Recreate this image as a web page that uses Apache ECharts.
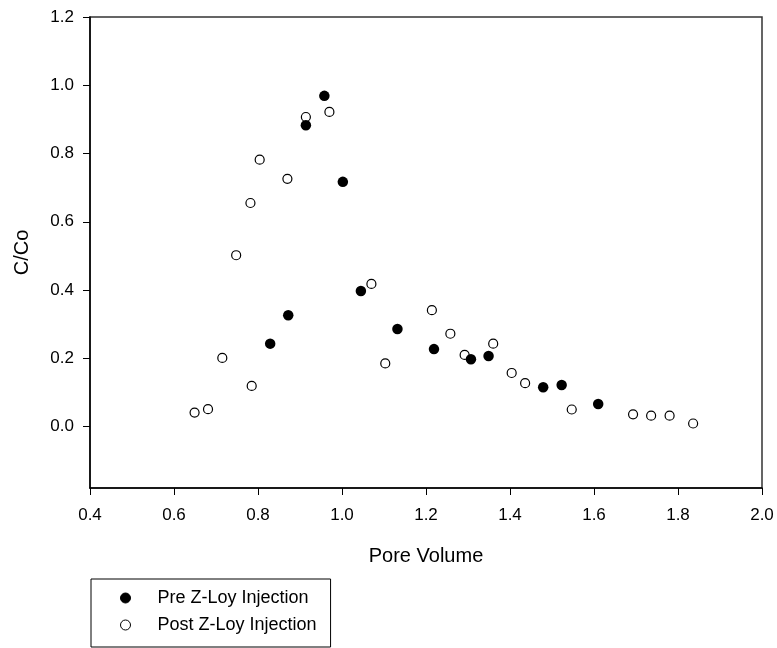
<!DOCTYPE html>
<html>
<head>
<meta charset="utf-8">
<script src="https://cdn.jsdelivr.net/npm/echarts@6/dist/echarts.min.js"></script>
<style>html,body{margin:0;padding:0;background:#fff}#c{width:777px;height:648px}</style>
</head>
<body>
<div id="c"></div>
<script>
const preX = [0.829, 0.872, 0.914, 0.958, 1.002, 1.045, 1.132, 1.219, 1.307, 1.349, 1.479, 1.523, 1.610];
const preY = [0.243, 0.326, 0.883, 0.969, 0.717, 0.397, 0.286, 0.227, 0.197, 0.207, 0.115, 0.122, 0.066];
const postX = [0.649, 0.681, 0.715, 0.748, 0.782, 0.785, 0.804, 0.870, 0.914, 0.970, 1.070, 1.103, 1.214, 1.258, 1.292, 1.360, 1.404, 1.436, 1.547, 1.693, 1.736, 1.780, 1.836];
const postY = [0.041, 0.051, 0.201, 0.502, 0.655, 0.119, 0.782, 0.726, 0.907, 0.922, 0.418, 0.185, 0.341, 0.272, 0.210, 0.243, 0.157, 0.127, 0.050, 0.036, 0.032, 0.032, 0.009];
const yTicks = [0.0, 0.2, 0.4, 0.6, 0.8, 1.0, 1.2];
const seriesNames = ['Pre Z-Loy Injection', 'Post Z-Loy Injection'];
const xName = 'Pore Volume';
const yName = 'C/Co';

const FONT = "'Liberation Sans', Arial, sans-serif";
const chart = echarts.init(document.getElementById('c'), null, {renderer: 'canvas'});
const zip = (a, b) => a.map((v, i) => [v, b[i]]);

chart.setOption({
  animation: false,
  backgroundColor: '#fff',
  grid: {left: 90, top: 17, right: 15, bottom: 160, show: true, borderColor: '#333', borderWidth: 1.5},
  xAxis: {
    type: 'value', min: 0.4, max: 2.0, interval: 0.2,
    name: xName, nameLocation: 'middle', nameGap: 58,
    nameTextStyle: {fontFamily: FONT, fontSize: 20, color: '#000'},
    axisLine: {show: true, onZero: false, lineStyle: {color: '#000', width: 1.5}},
    axisTick: {show: true, inside: false, length: 7, lineStyle: {color: '#000', width: 1}},
    axisLabel: {fontFamily: FONT, fontSize: 17, color: '#000', margin: 19, formatter: v => v.toFixed(1)},
    splitLine: {show: false}
  },
  yAxis: {
    type: 'value', min: -0.18, max: 1.2,
    name: yName, nameLocation: 'middle', nameGap: 58,
    nameTextStyle: {fontFamily: FONT, fontSize: 20, color: '#000'},
    axisLine: {show: true, onZero: false, lineStyle: {color: '#000', width: 1.5}},
    axisTick: {show: true, inside: false, length: 7, customValues: yTicks, lineStyle: {color: '#000', width: 1}},
    axisLabel: {fontFamily: FONT, fontSize: 17, color: '#000', margin: 16, customValues: yTicks, formatter: v => v.toFixed(1)},
    splitLine: {show: false}
  },
  legend: {
    orient: 'vertical', left: 91, top: 579,
    padding: [10, 14, 13, 29], itemGap: 9,
    itemWidth: 10, itemHeight: 10,
    itemStyle: {borderWidth: 1},
    borderColor: '#000', borderWidth: 1, borderRadius: 0,
    textStyle: {fontFamily: FONT, fontSize: 18, color: '#000', padding: [0, 0, 0, 22]},
    data: seriesNames
  },
  series: [
    {
      name: seriesNames[0], type: 'scatter', symbol: 'circle', symbolSize: 10.5,
      itemStyle: {color: '#000', borderColor: '#000', borderWidth: 0, opacity: 1},
      data: zip(preX, preY), z: 3
    },
    {
      name: seriesNames[1], type: 'scatter', symbol: 'circle', symbolSize: 9,
      itemStyle: {color: '#fff', borderColor: '#000', borderWidth: 1.2, opacity: 1},
      data: zip(postX, postY), z: 2
    }
  ]
});
</script>
</body>
</html>
